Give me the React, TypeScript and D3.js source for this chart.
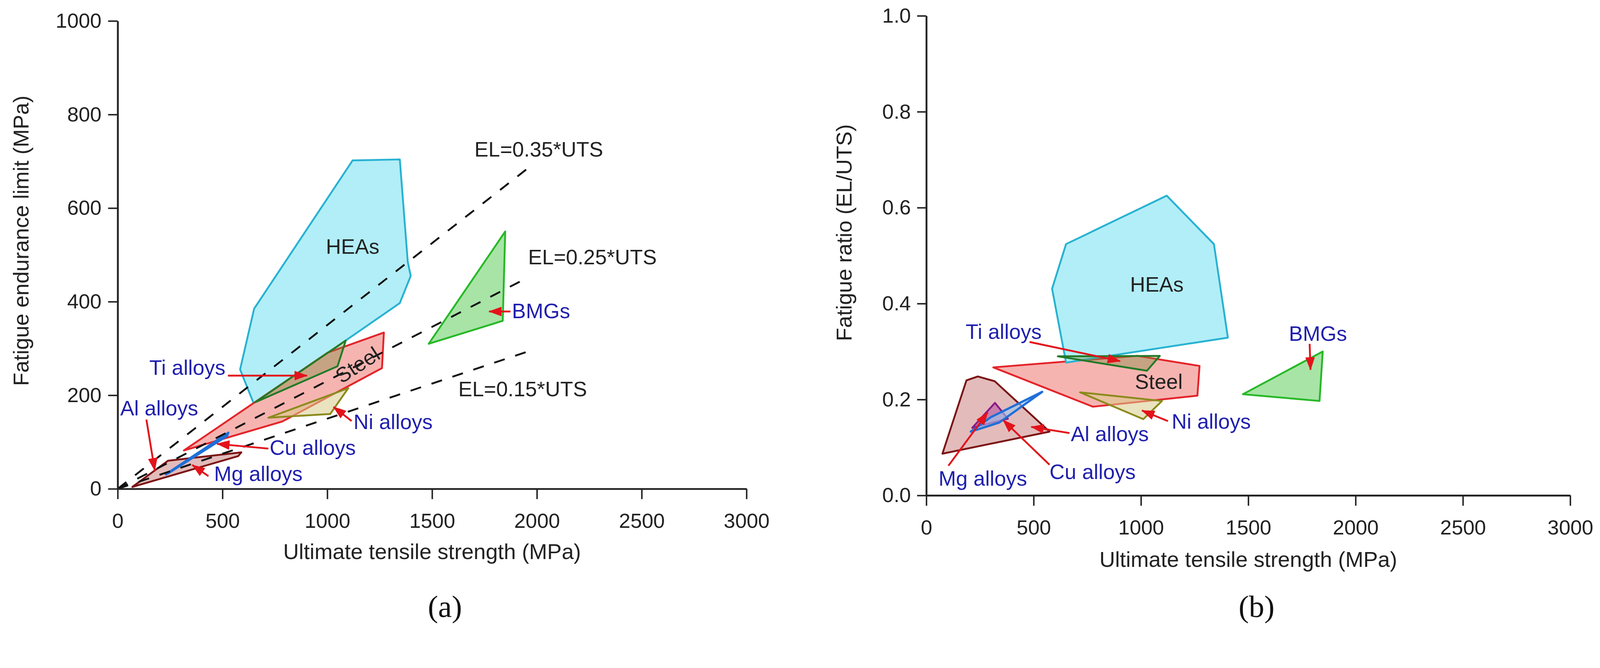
import React, { useEffect, useRef } from 'react'
import * as d3 from 'd3'

type Pt = [number, number]

// ---- panel (a): UTS (MPa) vs fatigue endurance limit (MPa) ----
const heasA: Pt[] = [[1121, 702], [1346, 704], [1384, 485], [1398, 455], [1346, 397], [1088, 317], [653, 178], [584, 255], [651, 385]]
const steelA: Pt[] = [[316, 82], [786, 144], [1261, 258], [1270, 334], [1002, 291]]
const tiA: Pt[] = [[656, 185], [1088, 317], [1049, 262]]
const niA: Pt[] = [[719, 152], [1014, 160], [1100, 215]]
const bmgA: Pt[] = [[1849, 550], [1837, 359], [1484, 310]]
const alA: Pt[] = [[70, 4], [240, 60], [590, 78], [575, 70]]
const cuA: Pt[] = [[230, 31], [528, 120], [522, 113], [240, 33]]

// dashed reference lines EL = k * UTS (end points as drawn)
const refLines = [
  { label: 'EL=0.35*UTS', end: [1965, 688] as Pt, text: [1702, 710] as Pt },
  { label: 'EL=0.25*UTS', end: [1950, 450] as Pt, text: [1958, 480] as Pt },
  { label: 'EL=0.15*UTS', end: [1960, 294] as Pt, text: [1625, 198] as Pt },
]

// ---- panel (b): UTS (MPa) vs fatigue ratio ----
const heasB: Pt[] = [[1120, 0.625], [1340, 0.524], [1405, 0.329], [651, 0.277], [586, 0.431], [651, 0.524]]
const steelB: Pt[] = [[312, 0.267], [983, 0.291], [1273, 0.27], [1263, 0.208], [776, 0.185]]
const tiB: Pt[] = [[613, 0.29], [1088, 0.291], [1028, 0.26]]
const niB: Pt[] = [[716, 0.215], [1098, 0.197], [1011, 0.159]]
const bmgB: Pt[] = [[1475, 0.211], [1847, 0.3], [1832, 0.197]]
const alB: Pt[] = [[75, 0.087], [187, 0.24], [240, 0.248], [319, 0.238], [574, 0.133]]
const mgB: Pt[] = [[214, 0.141], [320, 0.193], [380, 0.16]]
const cuB: Pt[] = [[207, 0.133], [300, 0.163], [540, 0.216], [340, 0.152]]

const xTicks = [0, 500, 1000, 1500, 2000, 2500, 3000]
const yTicksA = [0, 200, 400, 600, 800, 1000]
const yTicksB = [0, 0.2, 0.4, 0.6, 0.8, 1.0]

// annotation arrows (tail -> head) and labels, in data units
const arrowsA: { from: Pt; to: Pt }[] = [
  { from: [526, 242], to: [903, 242] },
  { from: [137, 148], to: [177, 39] },
  { from: [719, 86], to: [474, 96] },
  { from: [433, 27], to: [356, 51] },
  { from: [1116, 145], to: [1030, 175] },
  { from: [1874, 379], to: [1772, 379] },
]
const labelsA = [
  { t: 'Ti alloys', at: [151, 244] as Pt },
  { t: 'Al alloys', at: [12, 157] as Pt },
  { t: 'Cu alloys', at: [725, 73] as Pt },
  { t: 'Mg alloys', at: [460, 17] as Pt },
  { t: 'Ni alloys', at: [1125, 128] as Pt },
  { t: 'BMGs', at: [1881, 365] as Pt },
]
const arrowsB: { from: Pt; to: Pt }[] = [
  { from: [481, 0.32], to: [903, 0.28] },
  { from: [667, 0.13], to: [489, 0.143] },
  { from: [103, 0.062], to: [286, 0.173] },
  { from: [574, 0.064], to: [358, 0.157] },
  { from: [1126, 0.155], to: [1005, 0.177] },
  { from: [1786, 0.316], to: [1790, 0.262] },
]
const labelsB = [
  { t: 'Ti alloys', at: [183, 0.326] as Pt },
  { t: 'Al alloys', at: [673, 0.113] as Pt },
  { t: 'Mg alloys', at: [57, 0.02] as Pt },
  { t: 'Cu alloys', at: [574, 0.034] as Pt },
  { t: 'Ni alloys', at: [1143, 0.139] as Pt },
  { t: 'BMGs', at: [1689, 0.322] as Pt },
]

const W = 4351
const H = 1711
const FONT = '"Liberation Sans", Arial, Helvetica, sans-serif'
const SERIF = '"Liberation Serif", "Times New Roman", serif'
const BLUE = '#1f1fae'
const RED = '#e3131b'
const INK = '#222'

const styles: Record<string, { fill: string; stroke: string; op: number }> = {
  HEAs: { fill: '#b2eef7', stroke: '#27b2d2', op: 1 },
  Steel: { fill: '#f6b4b0', stroke: '#e4242a', op: 1 },
  Ti: { fill: '#7a8a3a', stroke: '#217a27', op: 0.38 },
  Ni: { fill: '#d9cc8a', stroke: '#8c8a1e', op: 0.55 },
  BMGs: { fill: '#a8e4a6', stroke: '#27b827', op: 1 },
  Al: { fill: '#b85656', stroke: '#7c1414', op: 0.4 },
  Mg: { fill: '#a8389a', stroke: '#8c1a86', op: 0.45 },
  Cu: { fill: '#9cc8f0', stroke: '#1f6fd8', op: 0.6 },
}

const xA = d3.scaleLinear().domain([0, 3000]).range([320, 2030])
const yA = d3.scaleLinear().domain([0, 1000]).range([1330, 57])
const xB = d3.scaleLinear().domain([0, 3000]).range([2519, 4270])
const yB = d3.scaleLinear().domain([0, 1]).range([1348, 43])

type Scale = d3.ScaleLinear<number, number>

function Axis({ side, scale, ticks, fmt, size, pad, at }: {
  side: 'bottom' | 'left'; scale: Scale; ticks: number[]; fmt: (d: number) => string; size: number; pad: number; at: string
}) {
  const ref = useRef<SVGGElement | null>(null)
  useEffect(() => {
    if (!ref.current) return
    const ax = (side === 'bottom' ? d3.axisBottom(scale) : d3.axisLeft(scale))
      .tickValues(ticks)
      .tickFormat(d => fmt(d as number))
      .tickSize(size)
      .tickSizeOuter(0)
      .tickPadding(pad)
    const g = d3.select(ref.current)
    g.call(ax)
    g.attr('font-size', null).attr('font-family', null)
    g.select('.domain').attr('stroke', INK).attr('stroke-width', 5)
    g.selectAll('.tick line').attr('stroke', INK).attr('stroke-width', 4)
    g.selectAll('.tick text').attr('fill', INK).style('font-size', '56px').style('font-family', FONT)
  }, [])
  return <g ref={ref} transform={at} />
}

function Regions({ list, x, y }: { list: [string, Pt[]][]; x: Scale; y: Scale }) {
  const line = d3.line<Pt>().x(d => x(d[0])).y(d => y(d[1])).curve(d3.curveLinearClosed)
  return (
    <g>
      {list.map(([name, pts], i) => {
        const s = styles[name]
        return (
          <path key={i} d={line(pts) ?? ''} fill={s.fill} fillOpacity={s.op}
            stroke={s.stroke} strokeWidth={name === 'Cu' ? 6 : 5} strokeLinejoin="round" />
        )
      })}
    </g>
  )
}

function Arrows({ list, x, y }: { list: { from: Pt; to: Pt }[]; x: Scale; y: Scale }) {
  return (
    <g>
      {list.map((a, i) => (
        <line key={i} x1={x(a.from[0])} y1={y(a.from[1])} x2={x(a.to[0])} y2={y(a.to[1])}
          stroke={RED} strokeWidth={5} markerEnd="url(#head)" />
      ))}
    </g>
  )
}

function Labels({ list, x, y }: { list: { t: string; at: Pt }[]; x: Scale; y: Scale }) {
  return (
    <g>
      {list.map((l, i) => (
        <text key={i} x={x(l.at[0])} y={y(l.at[1])} fill={BLUE} fontSize={57} fontFamily={FONT}>{l.t}</text>
      ))}
    </g>
  )
}

export default function App() {
  useEffect(() => {
    document.body.style.margin = '0'
    document.body.style.overflow = 'hidden'
    document.documentElement.style.overflow = 'hidden'
  }, [])

  return (
    <svg viewBox={`0 0 ${W} ${H}`} width="100%" preserveAspectRatio="xMinYMin meet"
      style={{ display: 'block', background: '#fff', maxWidth: W }}>
      <defs>
        <marker id="head" markerUnits="userSpaceOnUse" markerWidth={36} markerHeight={26}
          refX={34} refY={13} orient="auto">
          <path d="M0,0 L36,13 L0,26 Z" fill={RED} />
        </marker>
      </defs>

      {/* ---------- panel (a) ---------- */}
      <Regions x={xA} y={yA} list={[
        ['HEAs', heasA], ['Steel', steelA], ['Ti', tiA], ['Ni', niA], ['BMGs', bmgA], ['Al', alA], ['Cu', cuA],
      ]} />
      {refLines.map((r, i) => (
        <line key={i} x1={xA(0)} y1={yA(0)} x2={xA(r.end[0])} y2={yA(r.end[1])}
          stroke="#111" strokeWidth={5} strokeDasharray="30 30" />
      ))}
      <Arrows list={arrowsA} x={xA} y={yA} />
      <Labels list={labelsA} x={xA} y={yA} />
      {refLines.map((r, i) => (
        <text key={i} x={xA(r.text[0])} y={yA(r.text[1])} fill={INK} fontSize={57} fontFamily={FONT}>{r.label}</text>
      ))}
      <text x={xA(1121)} y={yA(518)} dominantBaseline="central" textAnchor="middle" fill={INK}
        fontSize={57} fontFamily={FONT}>HEAs</text>
      <text transform={`translate(${xA(1144)},${yA(265)}) rotate(-33)`} dominantBaseline="central"
        textAnchor="middle" fill={INK} fontSize={57} fontFamily={FONT}>Steel</text>

      <Axis side="bottom" scale={xA} ticks={xTicks} fmt={d3.format('d')} size={28} pad={38} at={`translate(0,${yA(0)})`} />
      <Axis side="left" scale={yA} ticks={yTicksA} fmt={d3.format('d')} size={26} pad={18} at={`translate(${xA(0)},0)`} />
      <text x={(xA(0) + xA(3000)) / 2} y={1521} textAnchor="middle" fill={INK} fontSize={59} fontFamily={FONT}>
        Ultimate tensile strength (MPa)
      </text>
      <text transform="translate(57,655) rotate(-90)" textAnchor="middle" dominantBaseline="central" fill={INK}
        fontSize={59} fontFamily={FONT}>Fatigue endurance limit (MPa)</text>
      <text x={1210} y={1678} textAnchor="middle" fill="#111" fontSize={84} fontFamily={SERIF}>(a)</text>

      {/* ---------- panel (b) ---------- */}
      <Regions x={xB} y={yB} list={[
        ['Steel', steelB], ['HEAs', heasB], ['Ti', tiB], ['Ni', niB], ['BMGs', bmgB], ['Al', alB], ['Mg', mgB], ['Cu', cuB],
      ]} />
      <Arrows list={arrowsB} x={xB} y={yB} />
      <Labels list={labelsB} x={xB} y={yB} />
      <text x={xB(1074)} y={yB(0.44)} dominantBaseline="central" textAnchor="middle" fill={INK}
        fontSize={57} fontFamily={FONT}>HEAs</text>
      <text x={xB(1083)} y={yB(0.238)} dominantBaseline="central" textAnchor="middle" fill={INK}
        fontSize={57} fontFamily={FONT}>Steel</text>

      <Axis side="bottom" scale={xB} ticks={xTicks} fmt={d3.format('d')} size={28} pad={38} at={`translate(0,${yB(0)})`} />
      <Axis side="left" scale={yB} ticks={yTicksB} fmt={d3.format('.1f')} size={25} pad={17} at={`translate(${xB(0)},0)`} />
      <text x={(xB(0) + xB(3000)) / 2} y={1542} textAnchor="middle" fill={INK} fontSize={59} fontFamily={FONT}>
        Ultimate tensile strength (MPa)
      </text>
      <text transform="translate(2296,633) rotate(-90)" textAnchor="middle" dominantBaseline="central" fill={INK}
        fontSize={59} fontFamily={FONT}>Fatigue ratio (EL/UTS)</text>
      <text x={3417} y={1678} textAnchor="middle" fill="#111" fontSize={84} fontFamily={SERIF}>(b)</text>
    </svg>
  )
}
